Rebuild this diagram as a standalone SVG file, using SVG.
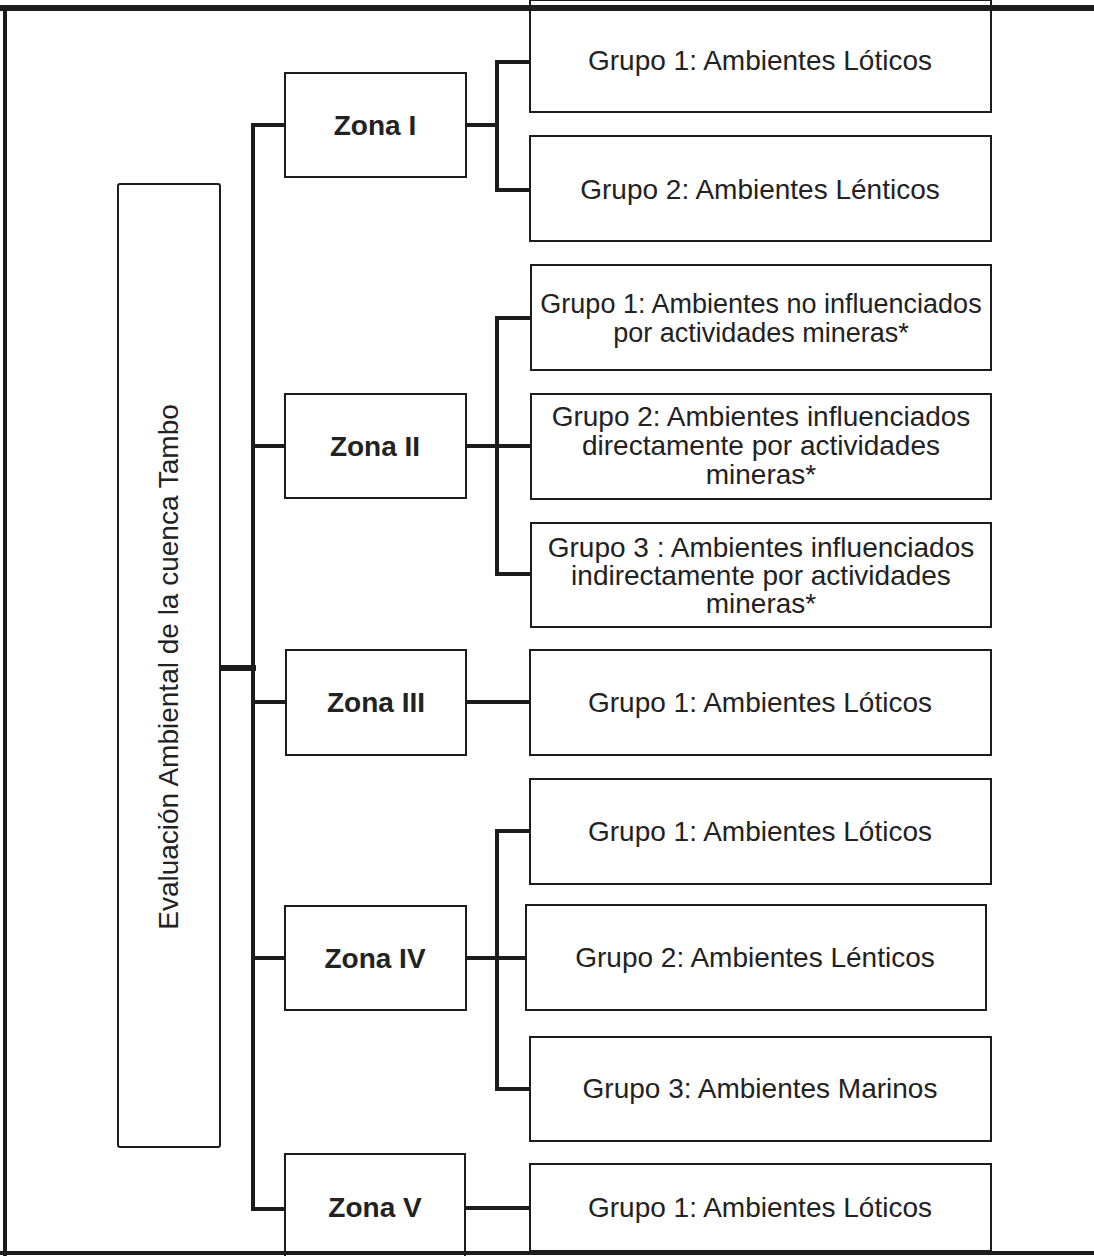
<svg xmlns="http://www.w3.org/2000/svg" width="1094" height="1256" viewBox="0 0 1094 1256">
<style>
.box{fill:#fff;stroke:#1c1c1c;stroke-width:2}
.t{font-family:"Liberation Sans",Arial,sans-serif;font-size:28px;fill:#222;text-anchor:middle}
.z{font-family:"Liberation Sans",Arial,sans-serif;font-size:28px;font-weight:bold;fill:#222;text-anchor:middle}
.c{fill:none;stroke:#1c1c1c;stroke-width:4;stroke-linecap:square}
</style>
<rect width="1094" height="1256" fill="#fff"/>
<g id="connectors">
<line class="c" x1="220" y1="668" x2="253" y2="668" style="stroke-width:6"/>
<polyline class="c" points="285,125 253,125 253,1209 285,1209"/>
<line class="c" x1="253" y1="446" x2="285" y2="446"/>
<line class="c" x1="253" y1="702" x2="285" y2="702"/>
<line class="c" x1="253" y1="958" x2="285" y2="958"/>
<line class="c" x1="466" y1="125" x2="497" y2="125"/>
<polyline class="c" points="530,62 497,62 497,190 530,190"/>
<line class="c" x1="466" y1="446" x2="530" y2="446"/>
<polyline class="c" points="530,318 497,318 497,574 530,574"/>
<line class="c" x1="466" y1="702" x2="530" y2="702"/>
<line class="c" x1="466" y1="958" x2="526" y2="958"/>
<polyline class="c" points="530,831 497,831 497,1089 530,1089"/>
<line class="c" x1="466" y1="1208" x2="530" y2="1208"/>
</g>
<g id="root"><rect class="box" x="118" y="184" width="102" height="963" rx="2"/>
<text class="t" transform="translate(178,667) rotate(-90)">Evaluación Ambiental de la cuenca Tambo</text></g>
<g id="zona1"><rect class="box" x="285" y="73" width="181" height="104"/><text class="z" x="375" y="135">Zona I</text></g>
<g id="zona2"><rect class="box" x="285" y="394" width="181" height="104"/><text class="z" x="375" y="456">Zona II</text></g>
<g id="zona3"><rect class="box" x="286" y="650" width="180" height="105"/><text class="z" x="376" y="712">Zona III</text></g>
<g id="zona4"><rect class="box" x="285" y="906" width="181" height="104"/><text class="z" x="375" y="968">Zona IV</text></g>
<g id="zona5"><rect class="box" x="285" y="1154" width="180" height="110"/><text class="z" x="375" y="1217">Zona V</text></g>
<g id="z1g1"><rect class="box" x="530" y="0" width="461" height="112"/><text class="t" x="760" y="70">Grupo 1: Ambientes Lóticos</text></g>
<g id="z1g2"><rect class="box" x="530" y="136" width="461" height="105"/><text class="t" x="760" y="199">Grupo 2: Ambientes Lénticos</text></g>
<g id="z2g1"><rect class="box" x="531" y="265" width="460" height="105"/><text class="t" x="761" y="313" style="font-size:27px">Grupo 1: Ambientes no influenciados</text><text class="t" x="761" y="342" style="font-size:27px">por actividades mineras*</text></g>
<g id="z2g2"><rect class="box" x="531" y="394" width="460" height="105"/><text class="t" x="761" y="426">Grupo 2: Ambientes influenciados</text><text class="t" x="761" y="455">directamente por actividades</text><text class="t" x="761" y="484">mineras*</text></g>
<g id="z2g3"><rect class="box" x="531" y="523" width="460" height="104"/><text class="t" x="761" y="557">Grupo 3 : Ambientes influenciados</text><text class="t" x="761" y="585">indirectamente por actividades</text><text class="t" x="761" y="613">mineras*</text></g>
<g id="z3g1"><rect class="box" x="530" y="650" width="461" height="105"/><text class="t" x="760" y="712">Grupo 1: Ambientes Lóticos</text></g>
<g id="z4g1"><rect class="box" x="530" y="779" width="461" height="105"/><text class="t" x="760" y="841">Grupo 1: Ambientes Lóticos</text></g>
<g id="z4g2"><rect class="box" x="526" y="905" width="460" height="105"/><text class="t" x="755" y="967">Grupo 2: Ambientes Lénticos</text></g>
<g id="z4g3"><rect class="box" x="530" y="1037" width="461" height="104"/><text class="t" x="760" y="1098">Grupo 3: Ambientes Marinos</text></g>
<g id="z5g1"><rect class="box" x="530" y="1164" width="461" height="87"/><text class="t" x="760" y="1217">Grupo 1: Ambientes Lóticos</text></g>
<g id="frame" fill="none" stroke="#1c1c1c">
<line x1="0" y1="8" x2="1094" y2="8" stroke-width="6"/>
<line x1="5" y1="5" x2="5" y2="1256" stroke-width="4"/>
<line x1="0" y1="1253" x2="1094" y2="1253" stroke-width="4"/>
</g>
</svg>
